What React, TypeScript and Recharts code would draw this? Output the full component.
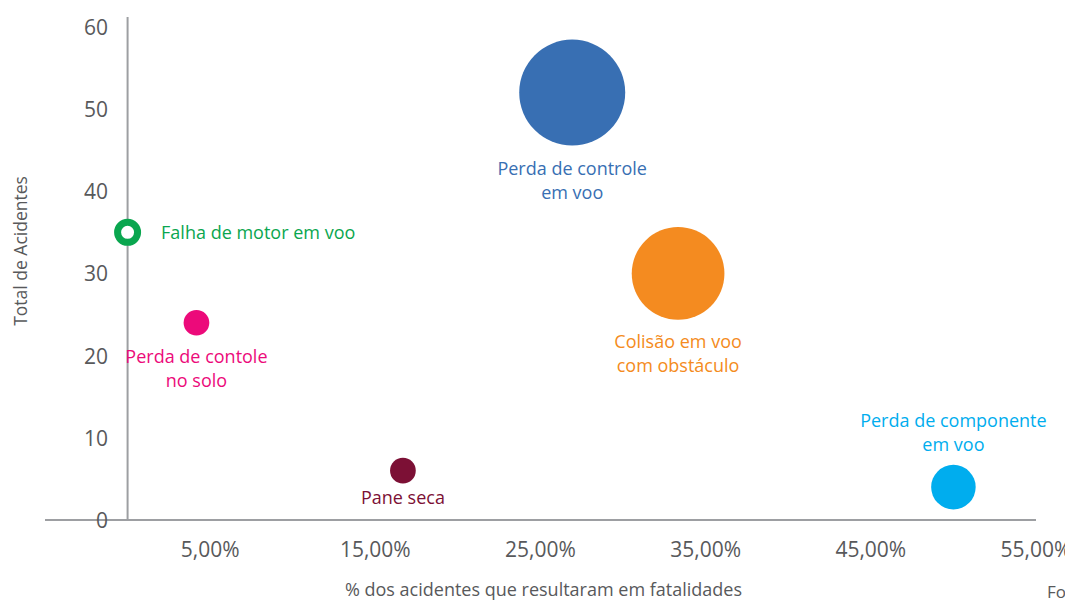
import { Cell, Label, ReferenceLine, Scatter, ScatterChart, XAxis, YAxis, ZAxis } from 'recharts';

const FONT = '"Open Sans", sans-serif';
const AXIS_GRAY = '#9d9fa2';
const TEXT_GRAY = '#58595b';

// categories, in drawing order
const CATEGORIES = [
  'Perda de controle em voo',
  'Colisão em voo com obstáculo',
  'Perda de componente em voo',
  'Pane seca',
  'Perda de contole no solo',
  'Falha de motor em voo',
];
// how each label is broken into lines
const LABEL_LINES = [
  ['Perda de controle', 'em voo'],
  ['Colisão em voo', 'com obstáculo'],
  ['Perda de componente', 'em voo'],
  ['Pane seca'],
  ['Perda de contole', 'no solo'],
  ['Falha de motor em voo'],
];
// % of accidents that were fatal
const PCT_FATAL = [26.92, 33.33, 50, 16.67, 4.17, 0];
// total accidents
const TOTAL = [52, 30, 4, 6, 24, 35];
// bubble size (fatalities)
const FATALITIES = [17, 13, 3, 1, 1, 0];

const X_TICKS = [5, 15, 25, 35, 45, 55];
const Y_TICKS = [0, 10, 20, 30, 40, 50, 60];

// styles
const COLORS = ['#386fb3', '#f48b20', '#00adee', '#7c1035', '#ec0a7a', '#0aa64f'];
const LABEL_PLACE = ['below', 'below', 'above', 'below', 'below', 'right'];
const LABEL_GAP = [22, 21, 21, 13, 20, 20];

const rows = CATEGORIES.map((name, i) => ({
  i,
  name,
  x: PCT_FATAL[i],
  y: TOTAL[i],
  z: FATALITIES[i],
}));

const fmtPct = (v: number) => v.toFixed(2).replace('.', ',') + '%';

function Bubble(props: any) {
  const { cx, cy, size, payload } = props;
  const i = payload.i;
  const color = COLORS[i];
  const lines = LABEL_LINES[i];
  const place = LABEL_PLACE[i];
  const gap = LABEL_GAP[i];
  const lh = 24;
  const hollow = payload.z === 0;
  const r = hollow ? 13.5 : Math.sqrt(Math.max(size, 0) / Math.PI);

  let tx = cx;
  let ty = cy;
  let anchor: 'middle' | 'start' = 'middle';
  if (place === 'below') ty = cy + r + gap;
  else if (place === 'above') ty = cy - r - gap - (lines.length - 1) * lh;
  else {
    tx = cx + r + gap;
    anchor = 'start';
  }

  return (
    <g>
      {hollow ? (
        <circle cx={cx} cy={cy} r={10} fill="#fff" stroke={color} strokeWidth={7} />
      ) : (
        <circle cx={cx} cy={cy} r={r} fill={color} />
      )}
      {lines.map((t, k) => (
        <text
          key={k}
          x={tx}
          y={ty + k * lh}
          textAnchor={anchor}
          dominantBaseline="central"
          fill={color}
          fontSize={18}
          fontFamily={FONT}
        >
          {t}
        </text>
      ))}
    </g>
  );
}

// y tick labels sit just left of the 0% line, inside the plot
function YTick(props: any) {
  const { y, payload } = props;
  return (
    <text x={100} y={y} textAnchor="end" dominantBaseline="central" fill={TEXT_GRAY} fontSize={21} fontFamily={FONT}>
      {payload.value}
    </text>
  );
}

export default function App() {
  return (
    <div style={{ position: 'relative', width: 1065, height: 592, overflow: 'hidden' }}>
      <ScatterChart width={1065} height={592} margin={{ top: 9, right: 37, bottom: 0, left: 0 }}>
        <XAxis
          type="number"
          dataKey="x"
          domain={[-5, 55]}
          ticks={X_TICKS}
          interval={0}
          tickFormatter={fmtPct}
          tickLine={false}
          tickMargin={16}
          height={80}
          axisLine={{ stroke: AXIS_GRAY, strokeWidth: 2 }}
          tick={{ fill: TEXT_GRAY, fontSize: 21, fontFamily: FONT }}
        >
          <Label
            value="% dos acidentes que resultaram em fatalidades"
            position="insideBottom"
            offset={4}
            dx={3}
            fill={TEXT_GRAY}
            fontSize={18}
            fontFamily={FONT}
          />
        </XAxis>
        <YAxis
          type="number"
          dataKey="y"
          domain={[0, 61.2]}
          ticks={Y_TICKS}
          interval={0}
          width={37}
          axisLine={false}
          tickLine={false}
          tick={<YTick />}
        >
          <Label
            content={() => (
              <text
                x={12}
                y={243}
                transform="rotate(-90 12 243)"
                textAnchor="middle"
                dominantBaseline="central"
                fill={TEXT_GRAY}
                fontSize={17.5}
                fontFamily={FONT}
              >
                Total de Acidentes
              </text>
            )}
          />
        </YAxis>
        <ZAxis type="number" dataKey="z" domain={[0, 17]} range={[0, Math.PI * 53 * 53]} />
        <ReferenceLine x={0} stroke={AXIS_GRAY} strokeWidth={2} />
        <Scatter data={rows} shape={<Bubble />} isAnimationActive={false}>
          {rows.map((r) => (
            <Cell key={r.name} fill={COLORS[r.i]} />
          ))}
        </Scatter>
      </ScatterChart>
      <span
        style={{
          position: 'absolute',
          left: 1039,
          top: 572,
          fontFamily: FONT,
          fontSize: 17,
          color: TEXT_GRAY,
          whiteSpace: 'nowrap',
        }}
      >
        Fonte: CENIPA
      </span>
    </div>
  );
}
